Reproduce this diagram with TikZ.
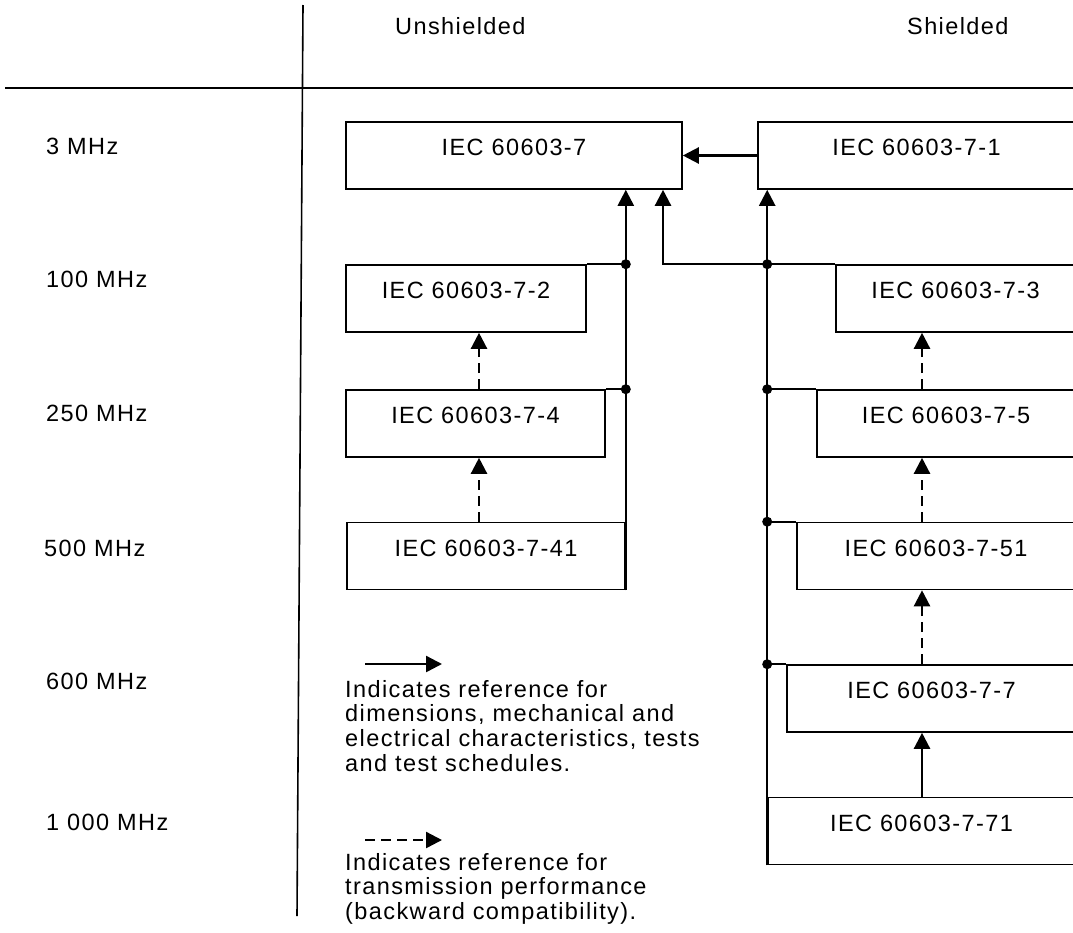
\documentclass[tikz,border=0pt]{standalone}
\usepackage{fontspec}
\usetikzlibrary{arrows.meta}
\newfontfamily\lsans{Liberation Sans}[LetterSpace=6]
\newcommand\lbl{\lsans\fontsize{23.5}{24.6}\selectfont}
\tikzset{
  box/.style={draw, line width=1.6pt, inner sep=0pt, minimum height=67pt,
              text height=8pt, text depth=8pt, font=\lbl},
  conn/.style={line width=2.4pt},
  thinconn/.style={line width=1.7pt},
  dconn/.style={line width=2.4pt, dash pattern=on 10pt off 6pt},
  arr/.style={-{Triangle[length=16pt,width=16pt]}},
  jdot/.style={circle, fill, inner sep=0pt, minimum size=10pt},
  txt/.style={font=\lbl, inner sep=0pt},
}
\begin{document}
\begin{tikzpicture}[x=1pt,y=-1pt]
\useasboundingbox (0,0) rectangle (1073,932);
\clip (0,0) rectangle (1073,932);

% frame lines
\coordinate (dvT) at (303,5);
\coordinate (dvB) at (297,916);
\coordinate (hzL) at (5,88);
\coordinate (hzR) at (1073,88);
\draw[line width=1.6pt] (dvT) -- (dvB);
\draw[line width=1.9pt] (hzL) -- (hzR);

% headers
\node[txt, anchor=base west] (hU) at (395,34) {Unshielded};
\node[txt, anchor=base west] (hS) at (907,34) {Shielded};

% frequency labels
\node[txt, anchor=base west] (f3)   at (46,154) {3 MHz};
\node[txt, anchor=base west] (f100) at (46,287) {100 MHz};
\node[txt, anchor=base west] (f250) at (46,421) {250 MHz};
\node[txt, anchor=base west] (f500) at (44,556) {500 MHz};
\node[txt, anchor=base west] (f600) at (46,689) {600 MHz};
\node[txt, anchor=base west] (f1000) at (46,830) {1 000 MHz};

% boxes
\node[box, minimum width=336pt] (b7)   at (514,155.5)   {IEC 60603-7};
\node[box, minimum width=317pt] (b71)  at (916.5,155.5) {IEC 60603-7-1};
\node[box, minimum width=240pt] (b72)  at (466,298.5)   {IEC 60603-7-2};
\node[box, minimum width=239pt] (b73)  at (955.5,298.5) {IEC 60603-7-3};
\node[box, minimum width=259pt] (b74)  at (475.5,423.5) {IEC 60603-7-4};
\node[box, minimum width=258pt] (b75)  at (946,423.5)   {IEC 60603-7-5};
\node[box, minimum width=278pt] (b741) at (486,556)     {IEC 60603-7-41};
\node[box, minimum width=278pt] (b751) at (936,556)     {IEC 60603-7-51};
\node[box, minimum width=289pt] (b77)  at (931.5,698.5) {IEC 60603-7-7};
\node[box, minimum width=307pt] (b771) at (921.5,831)   {IEC 60603-7-71};

% column coordinates
\coordinate (colL) at (479,0);
\coordinate (colR) at (922,0);
\coordinate (loopX) at (663,0);

% shielded 7-1 -> 7
\draw[conn, arr] (b71.west) -- (b7.east);

% left trunk
\draw[conn, arr] (b741.south east) -- (b741.south east |- b7.south);
\coordinate (jL2) at (b741.south east |- b72.north);
\coordinate (jL4) at (b741.south east |- b74.north);
\draw[thinconn] (b72.north east) -- (jL2);
\draw[thinconn] (b74.north east) -- (jL4);
\node[jdot] (dL2) at (jL2) {};
\node[jdot] (dL4) at (jL4) {};

% right trunk
\draw[conn, arr] (b771.south west) -- (b771.south west |- b71.south);
\coordinate (jR3) at (b771.south west |- b73.north);
\coordinate (jR5) at (b771.south west |- b75.north);
\coordinate (jR51) at (b771.south west |- b751.north);
\coordinate (jR7) at (b771.south west |- b77.north);
\coordinate (lp) at (loopX |- b73.north);
\draw[conn, arr] (b73.north west) -- (lp) -- (loopX |- b7.south);
\draw[thinconn] (jR5) -- (b75.north west);
\draw[thinconn] (jR51) -- (b751.north west);
\draw[thinconn] (jR7) -- (b77.north west);
\node[jdot] (dR3) at (jR3) {};
\node[jdot] (dR5) at (jR5) {};
\node[jdot] (dR51) at (jR51) {};
\node[jdot] (dR7) at (jR7) {};

% dashed (backward compatibility) arrows
\draw[dconn, arr] (colL |- b741.north) -- (colL |- b74.south);
\draw[dconn, arr] (colL |- b74.north) -- (colL |- b72.south);
\draw[dconn, arr] (colR |- b75.north) -- (colR |- b73.south);
\draw[dconn, arr] (colR |- b751.north) -- (colR |- b75.south);
\draw[dconn, arr] (colR |- b77.north) -- (colR |- b751.south);
\draw[conn, arr] (colR |- b771.north) -- (colR |- b77.south);

% legend
\coordinate (la1) at (365,664);
\coordinate (lb1) at (442,664);
\draw[conn, arr] (la1) -- (lb1);
\node[txt, anchor=north west, align=left] (lt1) at (345,680)
  {Indicates reference for\\dimensions, mechanical and\\electrical characteristics, tests\\and test schedules.};
\coordinate (la2) at (365,840);
\coordinate (lb2) at (442,840);
\draw[dconn, arr] (la2) -- (lb2);
\node[txt, anchor=north west, align=left] (lt2) at (345,853)
  {Indicates reference for\\transmission performance\\(backward compatibility).};
\end{tikzpicture}
\end{document}
